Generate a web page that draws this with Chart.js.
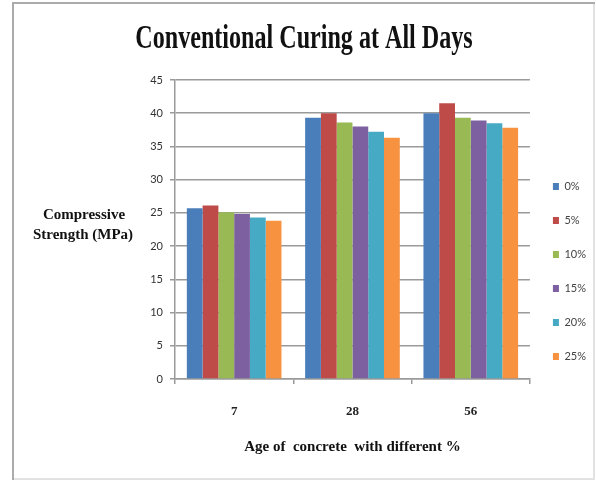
<!DOCTYPE html>
<html lang="en">
  <head>
    <meta charset="UTF-8" />
    <title>Conventional Curing at All Days</title>
    <style>
      body {
        margin: 0;
        background: #fff;
      }
      .chart-box {
        position: relative;
        width: 596px;
        height: 480px;
      }
    </style>
  </head>
  <body>
    <div class="chart-box"><canvas id="myChart"></canvas></div>

    <script src="https://cdn.jsdelivr.net/npm/chart.js@4/dist/chart.umd.min.js"></script>
    <script>
      // age of concrete (days) and replacement percentages
      var ages = ["7", "28", "56"];
      var mixLabels = ["0%", "5%", "10%", "15%", "20%", "25%"];
      var mixColors = ["#4A7EBB", "#BE4B48", "#98B954", "#7D60A0", "#46AAC5", "#F69240"];

      // compressive strength in MPa, one array per mix
      var strength0 = [25.7, 39.3, 40.0];
      var strength5 = [26.1, 40.0, 41.5];
      var strength10 = [25.1, 38.6, 39.3];
      var strength15 = [24.85, 38.0, 38.9];
      var strength20 = [24.3, 37.2, 38.5];
      var strength25 = [23.8, 36.3, 37.8];

      var yTicks = { min: 0, max: 45, step: 5 };

      var seriesValues = [strength0, strength5, strength10, strength15, strength20, strength25];
      var datasets = [];
      for (var i = 0; i < mixLabels.length; i++) {
        datasets.push({
          label: mixLabels[i],
          data: seriesValues[i],
          backgroundColor: mixColors[i],
          borderWidth: 0,
          barPercentage: 1,
          categoryPercentage: 0.8,
        });
      }

      var gridGrey = "#9a9a9a";

      // outer frame, main title and the horizontal y axis caption
      var decorations = {
        id: "decorations",
        beforeDraw: function (chart) {
          var ctx = chart.ctx;
          ctx.save();
          ctx.fillStyle = "#fff";
          ctx.fillRect(0, 0, chart.width, chart.height);
          ctx.lineWidth = 2;
          // left and top edges are darker than the right and bottom ones
          ctx.strokeStyle = "#e2e2e2";
          ctx.beginPath();
          ctx.moveTo(594, 3);
          ctx.lineTo(594, 479);
          ctx.lineTo(13, 479);
          ctx.stroke();
          ctx.strokeStyle = "#ababab";
          ctx.beginPath();
          ctx.moveTo(13, 480);
          ctx.lineTo(13, 3);
          ctx.lineTo(595, 3);
          ctx.stroke();
          ctx.restore();
        },
        afterDraw: function (chart) {
          var ctx = chart.ctx;
          var area = chart.chartArea;
          ctx.save();
          ctx.fillStyle = "#111";
          ctx.textAlign = "center";
          ctx.textBaseline = "alphabetic";

          // condensed bold title
          ctx.save();
          ctx.translate(304, 48);
          ctx.scale(0.73, 1);
          ctx.font = "bold 33px 'Liberation Serif', 'Times New Roman', serif";
          ctx.fillText("Conventional Curing at All Days", 0, 0);
          ctx.restore();

          ctx.font = "bold 15px 'Liberation Serif', 'Times New Roman', serif";
          var midY = (area.top + area.bottom) / 2;
          ctx.fillText("Compressive", 84, midY - 11);
          ctx.fillText("Strength (MPa)", 83, midY + 9);
          ctx.restore();
        },
      };

      var ctx = document.getElementById("myChart").getContext("2d");
      var myChart = new Chart(ctx, {
        type: "bar",
        data: { labels: ages, datasets: datasets },
        plugins: [decorations],
        options: {
          responsive: true,
          maintainAspectRatio: false,
          animation: false,
          layout: { padding: { top: 80, bottom: 17, left: 135, right: 0 } },
          plugins: {
            title: { display: false },
            tooltip: { enabled: false },
            legend: {
              position: "right",
              align: "center",
              labels: {
                boxWidth: 6,
                boxHeight: 7,
                padding: 23,
                color: "#444",
                font: { family: "Lato, 'Liberation Sans', sans-serif", size: 11 },
              },
            },
          },
          scales: {
            x: {
              afterFit: function (scale) {
                scale.height = 84;
              },
              grid: {
                display: true,
                drawOnChartArea: false,
                drawTicks: true,
                tickLength: 5,
                color: gridGrey,
                lineWidth: 1.5,
              },
              border: { color: gridGrey, width: 1.5 },
              ticks: {
                padding: 20,
                color: "#222",
                font: { family: "'Liberation Serif', 'Times New Roman', serif", size: 13, weight: "bold" },
              },
              title: {
                display: true,
                text: "Age of  concrete  with different %",
                color: "#111",
                padding: { top: 0, bottom: 7 },
                font: { family: "'Liberation Serif', 'Times New Roman', serif", size: 15, weight: "bold" },
              },
            },
            y: {
              min: yTicks.min,
              max: yTicks.max,
              afterFit: function (scale) {
                scale.width = 40;
              },
              grid: {
                color: gridGrey,
                lineWidth: 1.5,
                tickLength: 5,
              },
              border: { color: gridGrey, width: 1.5 },
              ticks: {
                stepSize: yTicks.step,
                padding: 7,
                color: "#333",
                font: { family: "Lato, 'Liberation Sans', sans-serif", size: 11 },
              },
            },
          },
        },
      });
    </script>
  </body>
</html>
